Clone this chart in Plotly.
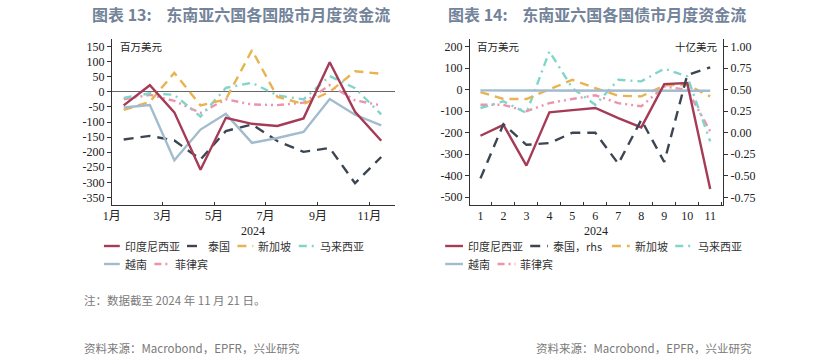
import plotly.graph_objects as go

W, H = 820, 364

# ---------------- data ----------------
months_eq = ["2024-01-15", "2024-02-15", "2024-03-15", "2024-04-15", "2024-05-15", "2024-06-15",
             "2024-07-15", "2024-08-15", "2024-09-15", "2024-10-15", "2024-11-15"]
eq_tick_vals = ["2024-01-01", "2024-03-01", "2024-05-01", "2024-07-01", "2024-09-01", "2024-11-01"]
eq_tick_text = ["1月", "3月", "5月", "7月", "9月", "11月"]

eq_indonesia = [-45, 22, -68, -258, -86, -106, -113, -88, 98, -66, -162]
eq_thailand = [-158, -146, -161, -224, -130, -108, -163, -199, -186, -303, -216]
eq_singapore = [-60, -33, 63, -45, -25, 138, -17, -40, 0, 68, 60]
eq_malaysia = [-20, -5, -10, -82, 13, 30, -12, -25, 52, 12, -75]
eq_philippines = [-25, -10, -30, -70, -25, -42, -44, -36, 22, -28, -45]
eq_vietnam = [-52, -44, -227, -125, -73, -169, -153, -133, -24, -76, -111]

months_bd = [1, 2, 3, 4, 5, 6, 7, 8, 9, 10, 11]
bd_indonesia = [-214, -163, -353, -105, -95, -85, -132, -175, 26, 31, -462]
bd_thailand_rhs = [-0.53, 0.10, -0.14, -0.12, 0.0, 0.0, -0.36, 0.15, -0.34, 0.67, 0.76]
bd_singapore = [-11, -43, -43, 3, 46, 8, -28, -31, 20, 23, -31]
bd_malaysia = [-85, -54, -108, 178, 8, -70, 46, 39, 98, 62, -240]
bd_philippines = [-70, -70, -100, -62, -43, -26, -62, -77, 15, 0, -193]
bd_vietnam = [-3, -3, -3, -3, -3, -3, -3, -3, -2, -3, -5]

eq_y_ticks = [150, 100, 50, 0, -50, -100, -150, -200, -250, -300, -350]
bd_y_ticks = [200, 100, 0, -100, -200, -300, -400, -500]
bd_y2_ticks = [1.0, 0.75, 0.5, 0.25, 0.0, -0.25, -0.5, -0.75]

# ---------------- styles ----------------
C_IDN = "#A53B57"
C_THA = "#3C4653"
C_SGP = "#E8B350"
C_MYS = "#80D5CB"
C_VNM = "#A2BCCE"
C_PHL = "#EC94AC"
D_THA = "10px,7px"
D_SGP = "9px,6px"
D_MYS = "8px,5px,2px,5px"
D_PHL = "7px,4px,2px,4px,2px,4px"
LW = 2.4

styles = {
    "印度尼西亚": (C_IDN, "solid"),
    "泰国": (C_THA, D_THA),
    "新加坡": (C_SGP, D_SGP),
    "马来西亚": (C_MYS, D_MYS),
    "越南": (C_VNM, "solid"),
    "菲律宾": (C_PHL, D_PHL),
}

fig = go.Figure()

eq_series = {"印度尼西亚": eq_indonesia, "泰国": eq_thailand, "新加坡": eq_singapore,
             "马来西亚": eq_malaysia, "越南": eq_vietnam, "菲律宾": eq_philippines}
eq_order = ["菲律宾", "马来西亚", "新加坡", "泰国", "越南", "印度尼西亚"]
for n in eq_order:
    c, d = styles[n]
    fig.add_trace(go.Scatter(x=months_eq, y=eq_series[n], mode="lines", name=n,
                             line=dict(color=c, width=LW, dash=d), xaxis="x", yaxis="y",
                             showlegend=False))

bd_series = {"印度尼西亚": bd_indonesia, "新加坡": bd_singapore,
             "马来西亚": bd_malaysia, "越南": bd_vietnam, "菲律宾": bd_philippines}
for n in ["菲律宾", "马来西亚", "新加坡", "越南", "印度尼西亚"]:
    c, d = styles[n]
    fig.add_trace(go.Scatter(x=months_bd, y=bd_series[n], mode="lines", name=n,
                             line=dict(color=c, width=LW, dash=d), xaxis="x2", yaxis="y2",
                             showlegend=False))
c, d = styles["泰国"]
fig.add_trace(go.Scatter(x=months_bd, y=bd_thailand_rhs, mode="lines", name="泰国，rhs",
                         line=dict(color=c, width=LW, dash=d), xaxis="x2", yaxis="y3",
                         showlegend=False))

# ---------------- layout ----------------
def px_x(p):
    return p / W

def px_y(p):
    return 1 - p / H

TOP, BOT = 39, 205
ydom = [px_y(BOT), px_y(TOP)]
TICKFONT = dict(family="Liberation Serif, Noto Sans CJK SC", size=12, color="#222")
AX = dict(showline=True, linecolor="#333", linewidth=1, showgrid=False, ticks="outside",
          ticklen=4, tickcolor="#333", tickfont=TICKFONT)

fig.update_layout(
    width=W, height=H, margin=dict(l=0, r=0, t=0, b=0),
    paper_bgcolor="white", plot_bgcolor="white", showlegend=False,
    xaxis=dict(AX, domain=[px_x(104), px_x(390)], anchor="y", type="date",
               range=["2024-01-01", "2024-12-01"], tickvals=eq_tick_vals, ticktext=eq_tick_text,
               ticks="inside", ticklen=3, zeroline=False),
    yaxis=dict(AX, domain=ydom, anchor="x", range=[-375, 175], tickvals=eq_y_ticks,
               ticktext=[str(v) for v in eq_y_ticks],
               zeroline=True, zerolinecolor="#666", zerolinewidth=1),
    xaxis2=dict(AX, domain=[px_x(466), px_x(722)], anchor="y2", range=[0.54, 11.56],
                tickvals=months_bd, ticktext=[str(m) for m in months_bd], ticks="",
                minor=dict(tick0=0.5, dtick=1, ticks="inside", ticklen=3, tickcolor="#333"),
                zeroline=False),
    yaxis2=dict(AX, domain=ydom, anchor="x2", range=[-536, 236], tickvals=bd_y_ticks,
                ticktext=[str(v) for v in bd_y_ticks], zeroline=False),
    yaxis3=dict(AX, domain=ydom, anchor="x2", overlaying="y2", side="right",
                range=[-0.839, 1.089], tickvals=bd_y2_ticks,
                ticktext=[f"{v:.2f}" for v in bd_y2_ticks], zeroline=False),
)

ann = []

def note(text, x, y, font, xanchor="left"):
    ann.append(dict(text=text, x=px_x(x), y=px_y(y), xref="paper", yref="paper",
                    xanchor=xanchor, yanchor="middle", showarrow=False, font=font))

TITLE_FONT = dict(family="Noto Sans CJK SC", size=16, color="#72839A")
note("<b>图表 13:    东南亚六国各国股市月度资金流</b>", 235, 14, TITLE_FONT, xanchor="center")
note("<b>图表 14:    东南亚六国各国债市月度资金流</b>", 595, 14, TITLE_FONT, xanchor="center")

UNIT_FONT = dict(family="Noto Sans CJK SC", size=10.5, color="#222")
note("百万美元", 110, 47, UNIT_FONT)
note("百万美元", 471, 47, UNIT_FONT)
note("十亿美元", 719, 47, UNIT_FONT, xanchor="right")

YEAR_FONT = dict(family="Liberation Serif", size=12, color="#222")
note("2024", 247, 231, YEAR_FONT, xanchor="center")
note("2024", 594, 231, YEAR_FONT, xanchor="center")

NOTE_FONT = dict(family="Noto Sans CJK SC", size=11.5, color="#7a7a7a")
note("注：数据截至 2024 年 11 月 21 日。", 74, 300, NOTE_FONT)
note("资料来源：Macrobond，EPFR，兴业研究", 74, 348, NOTE_FONT)
note("资料来源：Macrobond，EPFR，兴业研究", 531, 348, NOTE_FONT)

# ---------------- manual legends ----------------
LEG_FONT = dict(family="Noto Sans CJK SC", size=11, color="#333")
shapes = []

def text_w(s):
    w = 0
    for ch in s:
        w += 11 if ord(ch) > 255 else 6.2
    return w

def legend_row(items, x0, y, sample=16, gap=3, sep=10):
    x = x0
    for label, key in items:
        c, d = styles[key]
        shapes.append(dict(type="line", xref="paper", yref="paper",
                           x0=px_x(x), x1=px_x(x + sample), y0=px_y(y), y1=px_y(y),
                           line=dict(color=c, width=LW, dash=d)))
        x += sample + gap
        note(label, x, y, LEG_FONT)
        x += text_w(label) + sep

legend_row([("印度尼西亚", "印度尼西亚"), ("泰国", "泰国"), ("新加坡", "新加坡"),
            ("马来西亚", "马来西亚")], 96, 246)
legend_row([("越南", "越南"), ("菲律宾", "菲律宾")], 96, 264)
legend_row([("印度尼西亚", "印度尼西亚"), ("泰国，rhs", "泰国"), ("新加坡", "新加坡"),
            ("马来西亚", "马来西亚")], 441, 246, sample=18)
legend_row([("越南", "越南"), ("菲律宾", "菲律宾")], 441, 264, sample=18)

fig.update_layout(annotations=ann, shapes=shapes)
fig.write_html("out.html", config={"displayModeBar": False},
               post_script="document.body.style.margin='0';document.body.style.overflow='hidden';")
